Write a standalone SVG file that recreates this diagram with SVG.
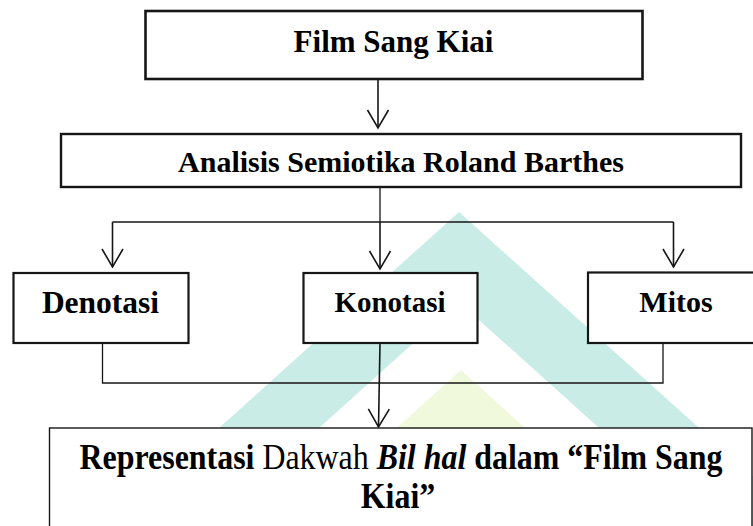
<svg xmlns="http://www.w3.org/2000/svg" width="753" height="526" viewBox="0 0 753 526">
  <style>
    .box { fill: #ffffff; stroke: #161616; }
    .t { font-family: "Liberation Serif", "Times New Roman", serif; fill: #000; font-weight: bold; }
    .conn { fill: none; stroke: #161616; stroke-width: 1.3; }
    .arr { fill: none; stroke: #161616; stroke-width: 1.6; }
  </style>
  <defs>
    <marker id="ah" viewBox="-20 -12 22 24" markerWidth="22" markerHeight="24" refX="0" refY="0" orient="auto" markerUnits="userSpaceOnUse">
      <path d="M-18,-10.5 L0,0 L-18,10.5" fill="none" stroke="#161616" stroke-width="1.6"/>
    </marker>
  </defs>
  <rect width="753" height="526" fill="#ffffff"/>
  <g id="watermark">
    <polygon points="459,212 110,526 808,526" fill="#c9ece6"/>
    <polygon points="459,302 210,526 708,526" fill="#ffffff"/>
    <polygon points="461,370 288,526 634,526" fill="#f1f9dc"/>
  </g>
  <g id="connectors">
    <path class="arr" d="M378,79 V128" marker-end="url(#ah)"/>
    <path class="conn" d="M380,187 V222 M112.5,222 H673.5"/>
    <path class="arr" d="M112.5,222 V267" marker-end="url(#ah)"/>
    <path class="arr" d="M380,222 V269" marker-end="url(#ah)"/>
    <path class="arr" d="M673.5,222 V267" marker-end="url(#ah)"/>
    <path class="conn" d="M102.5,343 V383 H663 V343"/>
    <path class="arr" d="M380,343 L378.5,427" marker-end="url(#ah)"/>
  </g>
  <g id="film">
    <rect class="box" x="145.5" y="11" width="497" height="68" stroke-width="2.6"/>
    <text class="t" x="393.5" y="52" font-size="31" text-anchor="middle">Film Sang Kiai</text>
  </g>
  <g id="analisis">
    <rect class="box" x="61" y="134" width="680" height="53" stroke-width="2.4"/>
    <text class="t" x="401" y="172" font-size="30" text-anchor="middle">Analisis Semiotika Roland Barthes</text>
  </g>
  <g id="denotasi">
    <rect class="box" x="13.5" y="273" width="175" height="70" stroke-width="2.2"/>
    <text class="t" x="100.5" y="313" font-size="31.5" text-anchor="middle">Denotasi</text>
  </g>
  <g id="konotasi">
    <rect class="box" x="303.5" y="273" width="174" height="70" stroke-width="2.2"/>
    <text class="t" x="390" y="312" font-size="30" text-anchor="middle" textLength="111" lengthAdjust="spacingAndGlyphs">Konotasi</text>
  </g>
  <g id="mitos">
    <rect class="box" x="588" y="272.5" width="180" height="70.5" stroke-width="2.2"/>
    <text class="t" x="676" y="312" font-size="30" text-anchor="middle">Mitos</text>
  </g>
  <g id="representasi">
    <rect class="box" x="49.5" y="428" width="702.5" height="120" stroke-width="1.4"/>
    <text class="t" font-size="35" text-anchor="middle" transform="translate(401,469) scale(0.912,1)"><tspan>Representasi</tspan> <tspan font-weight="normal">Dakwah</tspan> <tspan font-style="italic">Bil hal</tspan> dalam “Film Sang</text>
    <text class="t" font-size="35" text-anchor="middle" transform="translate(398,508) scale(0.912,1)">Kiai”</text>
  </g>
</svg>
